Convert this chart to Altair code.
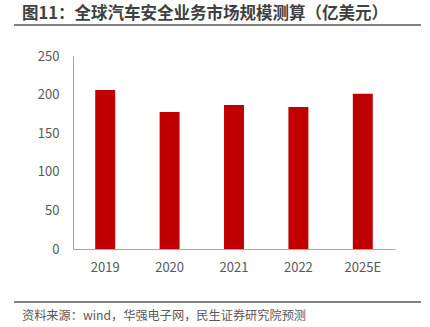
import altair as alt
import pandas as pd

years = ["2019", "2020", "2021", "2022", "2025E"]
values = [206, 177.5, 186.5, 184, 201]
title_text = "图11：全球汽车安全业务市场规模测算（亿美元）"
source_text = "资料来源：wind，华强电子网，民生证券研究院预测"

df = pd.DataFrame({"year": years, "value": values})
FONT = "Noto Sans CJK SC"

bars = alt.Chart(df).mark_bar(color="#C00000").encode(
    x=alt.X("year:N", sort=years, title=None,
            scale=alt.Scale(paddingInner=0.69, paddingOuter=0.345),
            axis=alt.Axis(labelAngle=0, ticks=False, domainColor="#A6A6A6",
                          labelColor="#595959", labelFontSize=13, labelFont=FONT,
                          labelPadding=12)),
    y=alt.Y("value:Q", title=None,
            scale=alt.Scale(domain=[0, 250]),
            axis=alt.Axis(values=[0, 50, 100, 150, 200, 250], grid=False, ticks=False,
                          domainColor="#A6A6A6", labelColor="#595959", labelFontSize=13,
                          labelFont=FONT, labelPadding=14)),
)

title = alt.Chart(pd.DataFrame({"t": [title_text]})).mark_text(
    align="left", baseline="middle", fontSize=16.5, fontWeight="bold", font=FONT, color="#404040"
).encode(text="t:N", x=alt.value(-51), y=alt.value(-42))

line_top = alt.Chart(pd.DataFrame({"a": [0]})).mark_rule(color="#595959", strokeWidth=1.5).encode(
    x=alt.value(-59), x2=alt.value(348), y=alt.value(-31))
line_bot = alt.Chart(pd.DataFrame({"a": [0]})).mark_rule(color="#595959", strokeWidth=1.5).encode(
    x=alt.value(-59), x2=alt.value(348), y=alt.value(246))

source = alt.Chart(pd.DataFrame({"t": [source_text]})).mark_text(
    align="left", baseline="middle", fontSize=12.2, font=FONT, color="#595959"
).encode(text="t:N", x=alt.value(-51), y=alt.value(260))

chart = alt.layer(bars, title, line_top, line_bot, source).properties(
    width=322, height=193,
    autosize=alt.AutoSizeParams(type="none"),
    padding={"left": 73, "top": 56, "right": 35, "bottom": 78},
).configure_view(stroke=None)

chart.save("out.html", embed_options={"renderer": "svg", "actions": False})
